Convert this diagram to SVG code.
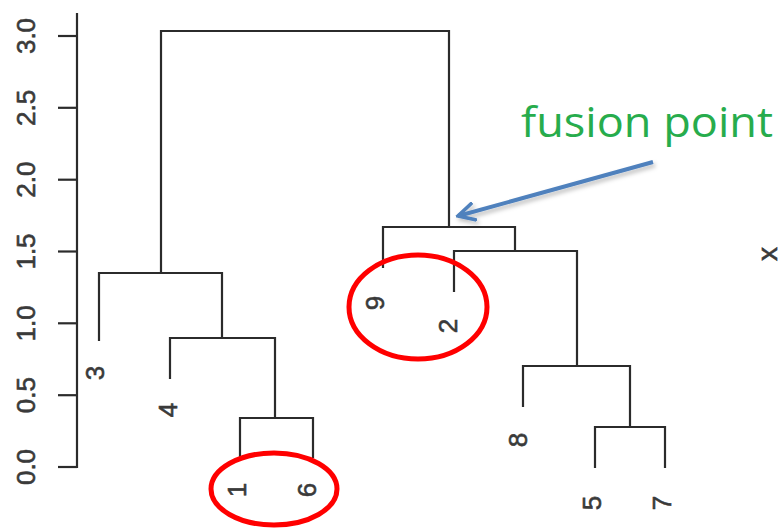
<svg xmlns="http://www.w3.org/2000/svg" width="782" height="528" viewBox="0 0 782 528">
  <style>
    .ln { stroke: #2b2b2b; stroke-width: 2.2; fill: none; stroke-linecap: square; }
    .ax { stroke: #2b2b2b; stroke-width: 2.2; fill: none; }
    .num { font-family: "Liberation Sans", Arial, sans-serif; font-size: 26px; fill: #3a3a3a; stroke: #3a3a3a; stroke-width: 0.6; text-anchor: middle; dominant-baseline: central; }
    .ring { stroke: #ff0000; stroke-width: 5; fill: none; }
    .note { font-family: "Open Sans", "Noto Sans", sans-serif; font-size: 42px; fill: #27ac4c; }
  </style>
  <defs>
    <marker id="openHead" viewBox="0 0 12 12" refX="10.5" refY="6" markerWidth="5" markerHeight="5" orient="auto" markerUnits="strokeWidth">
      <path d="M1,1 L10.5,6 L1,11" fill="none" stroke="#4f81bd" stroke-width="2.2" stroke-linejoin="miter" stroke-linecap="round"/>
    </marker>
    <filter id="soft" x="-20%" y="-50%" width="140%" height="200%">
      <feDropShadow dx="2" dy="3" stdDeviation="2" flood-color="#000" flood-opacity="0.25"/>
    </filter>
  </defs>

  <!-- height axis -->
  <g id="axis">
    <line class="ax" x1="77" y1="13" x2="77" y2="468"/>
    <line class="ax" x1="58" y1="467" x2="77" y2="467"/>
    <line class="ax" x1="58" y1="395.2" x2="77" y2="395.2"/>
    <line class="ax" x1="58" y1="323.3" x2="77" y2="323.3"/>
    <line class="ax" x1="58" y1="251.5" x2="77" y2="251.5"/>
    <line class="ax" x1="58" y1="179.7" x2="77" y2="179.7"/>
    <line class="ax" x1="58" y1="107.8" x2="77" y2="107.8"/>
    <line class="ax" x1="58" y1="36" x2="77" y2="36"/>
    <text class="num" transform="translate(26,467) rotate(-90)">0.0</text>
    <text class="num" transform="translate(26,395.2) rotate(-90)">0.5</text>
    <text class="num" transform="translate(26,323.3) rotate(-90)">1.0</text>
    <text class="num" transform="translate(26,251.5) rotate(-90)">1.5</text>
    <text class="num" transform="translate(26,179.7) rotate(-90)">2.0</text>
    <text class="num" transform="translate(26,107.8) rotate(-90)">2.5</text>
    <text class="num" transform="translate(26,36) rotate(-90)">3.0</text>
  </g>

  <!-- dendrogram branches -->
  <g id="connectors">
    <path class="ln" d="M161,273 V31 H449 V227"/>
    <path class="ln" d="M99,340 V273 H222 V338"/>
    <path class="ln" d="M170,378 V338 H275 V418"/>
    <path class="ln" d="M240,457 V418 H313 V457"/>
    <path class="ln" d="M383,267 V227 H515 V251"/>
    <path class="ln" d="M454,291 V251 H577 V366"/>
    <path class="ln" d="M523,406 V366 H630 V427"/>
    <path class="ln" d="M595,467 V427 H665 V467"/>
  </g>

  <!-- leaves -->
  <g id="leaf-3"><text class="num" transform="translate(95,373) rotate(-90)">3</text></g>
  <g id="leaf-4"><text class="num" transform="translate(168,410) rotate(-90)">4</text></g>
  <g id="leaf-1"><text class="num" transform="translate(237,490) rotate(-90)">1</text></g>
  <g id="leaf-6"><text class="num" transform="translate(307,490) rotate(-90)">6</text></g>
  <g id="leaf-9"><text class="num" transform="translate(375,303) rotate(-90)">9</text></g>
  <g id="leaf-2"><text class="num" transform="translate(448,326) rotate(-90)">2</text></g>
  <g id="leaf-8"><text class="num" transform="translate(518,440) rotate(-90)">8</text></g>
  <g id="leaf-5"><text class="num" transform="translate(592,503) rotate(-90)">5</text></g>
  <g id="leaf-7"><text class="num" transform="translate(662,503) rotate(-90)">7</text></g>

  <!-- highlighted pairs -->
  <g id="ring-1-6"><ellipse class="ring" cx="274" cy="489" rx="63" ry="36"/></g>
  <g id="ring-9-2"><ellipse class="ring" cx="418" cy="307" rx="69" ry="52"/></g>

  <!-- annotation -->
  <g id="callout">
    <text class="note" x="521" y="137" textLength="252" lengthAdjust="spacingAndGlyphs">fusion point</text>
    <line x1="653" y1="162" x2="458" y2="216" stroke="#4f81bd" stroke-width="4" marker-end="url(#openHead)" filter="url(#soft)"/>
  </g>

  <!-- small mark at right edge -->
  <g id="edge-mark">
    <text class="num" style="font-size:28px" transform="translate(767,254) rotate(-90)">x</text>
  </g>
</svg>
